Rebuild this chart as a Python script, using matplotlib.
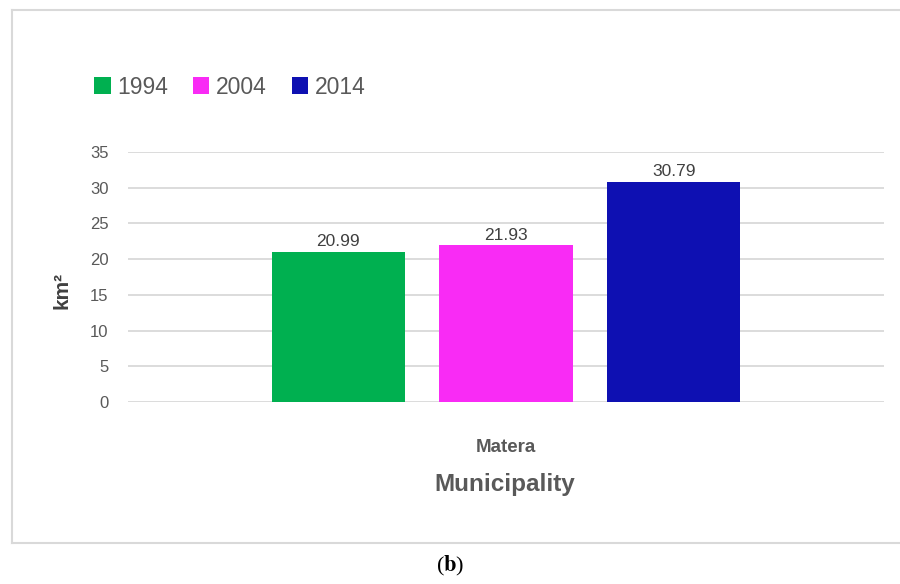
import numpy as np
import matplotlib.pyplot as plt
from matplotlib.lines import Line2D

years = ["1994", "2004", "2014"]
values = [20.99, 21.93, 30.79]
colors = ["#00B050", "#F92BF5", "#0E10B2"]
category = "Matera"

plt.rcParams['font.family'] = ['Liberation Sans', 'DejaVu Sans']
plt.rcParams['mathtext.fontset'] = 'stix'
txt = "#595959"

fig = plt.figure(figsize=(9, 5.84), dpi=100)
ax = fig.add_axes([128/900, 1-402/584, 756/900, 250/584])

# outer frame of the chart (top, left, bottom only)
fc = "#D9D9D9"
for xs, ys in [([12, 900], [10, 10]), ([12, 12], [10, 543]), ([12, 900], [543, 543])]:
    fig.add_artist(Line2D([v/900 for v in xs], [1 - v/584 for v in ys],
                          transform=fig.transFigure, color=fc, linewidth=1.5))

width = 0.176
step = 0.222
x = (np.arange(len(years)) - 1) * step
bars = []
for i in range(len(years)):
    b = ax.bar(x[i], values[i], width=width, color=colors[i], label=years[i], zorder=3)
    bars.append(b)
    ax.text(x[i], values[i] + 0.4, f"{values[i]:.2f}", ha="center", va="bottom",
            fontsize=12.5, color="#404040")

ax.set_xlim(-0.5, 0.5)
ax.set_ylim(0, 35)
ax.set_yticks(range(0, 36, 5))
ax.yaxis.grid(True, color="#D9D9D9", linewidth=1.3, zorder=0)
ax.tick_params(axis="y", length=0, pad=14, labelsize=12, labelcolor=txt)
ax.set_xticks([0])
ax.set_xticklabels([category])
ax.tick_params(axis="x", length=0, pad=27, labelsize=13.5, labelcolor=txt)
for t in ax.get_xticklabels():
    t.set_fontweight("bold")
for s in ax.spines.values():
    s.set_visible(False)

fig.text(62/900, 1-290/584, "km²", rotation=90, ha="center", va="center",
         fontsize=15, fontweight="bold", color="#404040")
fig.text(505/900, 1-484/584, "Municipality", ha="center", va="center",
         fontsize=17.5, fontweight="bold", color=txt)
fig.text(450/900, 1-566/584, r"($\mathbf{b}$)", ha="center", va="center",
         fontsize=16, family="Liberation Serif", color="black")

fig.legend(handles=[b[0] for b in bars], labels=years, loc="center left",
           bbox_to_anchor=(83/900, 1-87/584), ncol=3, frameon=False,
           fontsize=16.5, labelcolor=txt, handlelength=0.7, handleheight=0.7,
           handletextpad=0.3, columnspacing=1.1, borderpad=0)

fig.savefig("out.png", dpi=100)
